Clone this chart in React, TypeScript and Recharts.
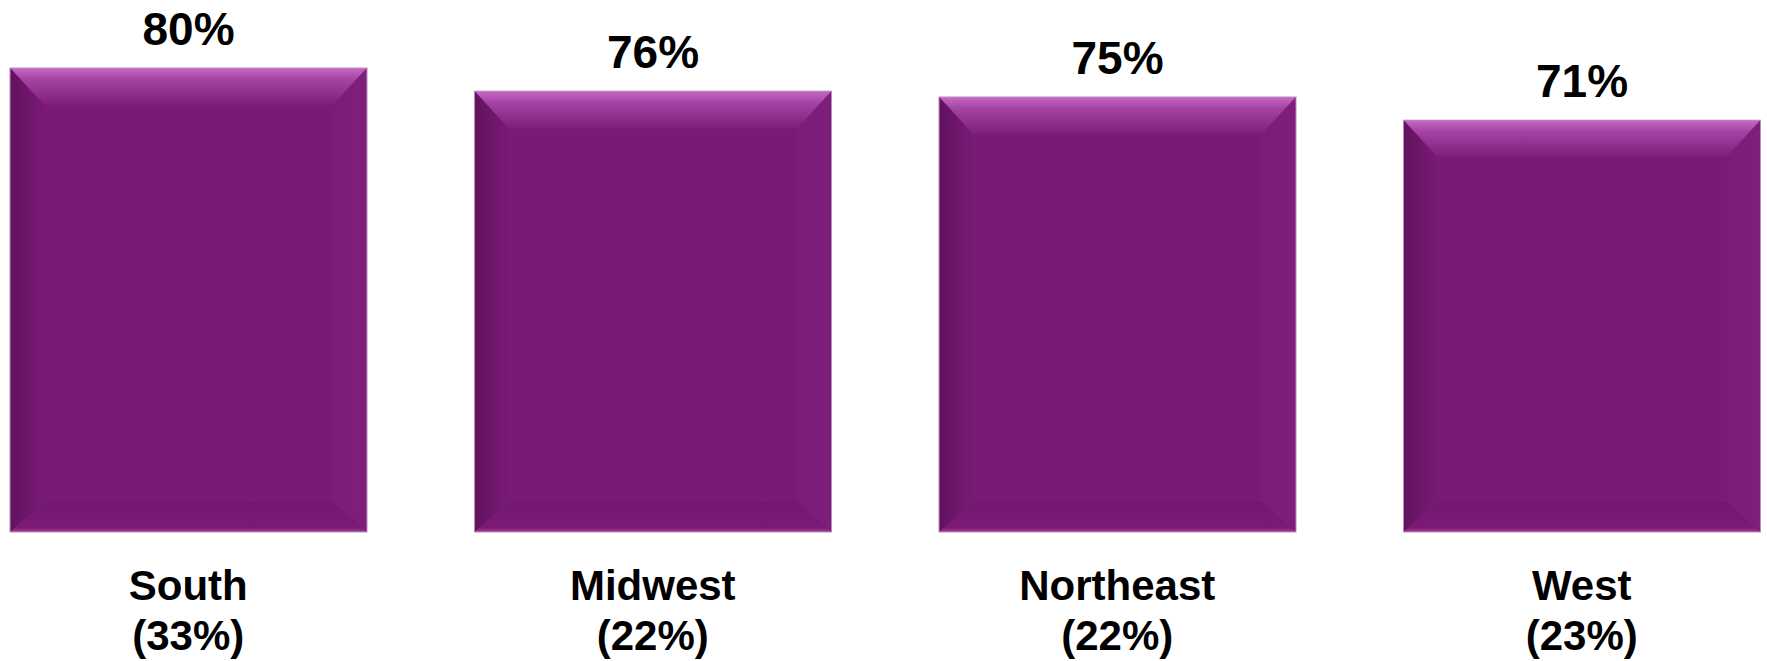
import { BarChart, Bar, XAxis, YAxis, LabelList } from "recharts";

const regions = ["South", "Midwest", "Northeast", "West"];
const regionShares = ["(33%)", "(22%)", "(22%)", "(23%)"];
const rates = [80, 76, 75, 71];

const data = regions.map((name, i) => ({
  name,
  share: regionShares[i],
  value: rates[i],
}));

const FONT = "Arial, 'Liberation Sans', Helvetica, sans-serif";

// bevelled purple bar, like the Office "soft bevel" effect
function BevelBar(props: any) {
  const { x, y, width: w, height: h } = props;
  if (!h || h <= 0) return null;
  const bt = 37;
  const bs = 34;
  const bb = 30;
  return (
    <g>
      <rect x={x} y={y} width={w} height={h} fill="#7A1A76" />
      <polygon
        points={`${x},${y} ${x + w},${y} ${x + w - bs},${y + bt} ${x + bs},${y + bt}`}
        fill="url(#bevelTop)"
      />
      <polygon
        points={`${x},${y} ${x + bs},${y + bt} ${x + bs},${y + h - bb} ${x},${y + h}`}
        fill="url(#bevelLeft)"
      />
      <polygon
        points={`${x + w},${y} ${x + w - bs},${y + bt} ${x + w - bs},${y + h - bb} ${x + w},${y + h}`}
        fill="url(#bevelRight)"
      />
      <polygon
        points={`${x},${y + h} ${x + bs},${y + h - bb} ${x + w - bs},${y + h - bb} ${x + w},${y + h}`}
        fill="url(#bevelBottom)"
      />
      <rect
        x={x}
        y={y}
        width={w}
        height={h}
        fill="none"
        stroke="#B98DB7"
        strokeWidth={1}
      />
    </g>
  );
}

function ValueLabel(props: any) {
  const { x, y, width, value } = props;
  return (
    <text
      x={x + width / 2}
      y={y - 23}
      textAnchor="middle"
      fontFamily={FONT}
      fontWeight="bold"
      fontSize={46}
      fill="#000"
    >
      {value}%
    </text>
  );
}

function RegionTick(props: any) {
  const { x, y, index } = props;
  return (
    <g>
      <text
        x={x}
        y={y + 68}
        textAnchor="middle"
        fontFamily={FONT}
        fontWeight="bold"
        fontSize={42}
        fill="#000"
      >
        {regions[index]}
      </text>
      <text
        x={x}
        y={y + 118}
        textAnchor="middle"
        fontFamily={FONT}
        fontWeight="bold"
        fontSize={42}
        fill="#000"
      >
        {regionShares[index]}
      </text>
    </g>
  );
}

export default function App() {
  return (
    <div
      style={{
        position: "absolute",
        left: 0,
        top: 0,
        width: 1767,
        height: 661,
        overflow: "hidden",
        background: "#fff",
      }}
    >
      <div style={{ position: "relative", left: -44 }}>
        <BarChart
          width={1858}
          height={661}
          data={data}
          margin={{ top: 10, right: 0, bottom: 0, left: 0 }}
        >
          <defs>
            <linearGradient id="bevelTop" x1="0" y1="0" x2="0" y2="1">
              <stop offset="0%" stopColor="#C868C6" />
              <stop offset="30%" stopColor="#A644A3" />
              <stop offset="100%" stopColor="#7E1D7A" />
            </linearGradient>
            <linearGradient id="bevelLeft" x1="0" y1="0" x2="1" y2="0">
              <stop offset="0%" stopColor="#62125E" />
              <stop offset="100%" stopColor="#791A75" />
            </linearGradient>
            <linearGradient id="bevelRight" x1="0" y1="0" x2="1" y2="0">
              <stop offset="0%" stopColor="#7C1C78" />
              <stop offset="100%" stopColor="#7F1F7C" />
            </linearGradient>
            <linearGradient id="bevelBottom" x1="0" y1="0" x2="0" y2="1">
              <stop offset="0%" stopColor="#731870" />
              <stop offset="85%" stopColor="#7A1B76" />
              <stop offset="100%" stopColor="#9A3A96" />
            </linearGradient>
          </defs>
          <XAxis
            dataKey="name"
            height={129}
            axisLine={false}
            tickLine={false}
            tickSize={0}
            tickMargin={0}
            interval={0}
            tick={<RegionTick />}
          />
          <YAxis hide domain={[0, 90]} />
          <Bar
            dataKey="value"
            barSize={357}
            shape={<BevelBar />}
            isAnimationActive={false}
          >
            <LabelList dataKey="value" content={<ValueLabel />} />
          </Bar>
        </BarChart>
      </div>
    </div>
  );
}
